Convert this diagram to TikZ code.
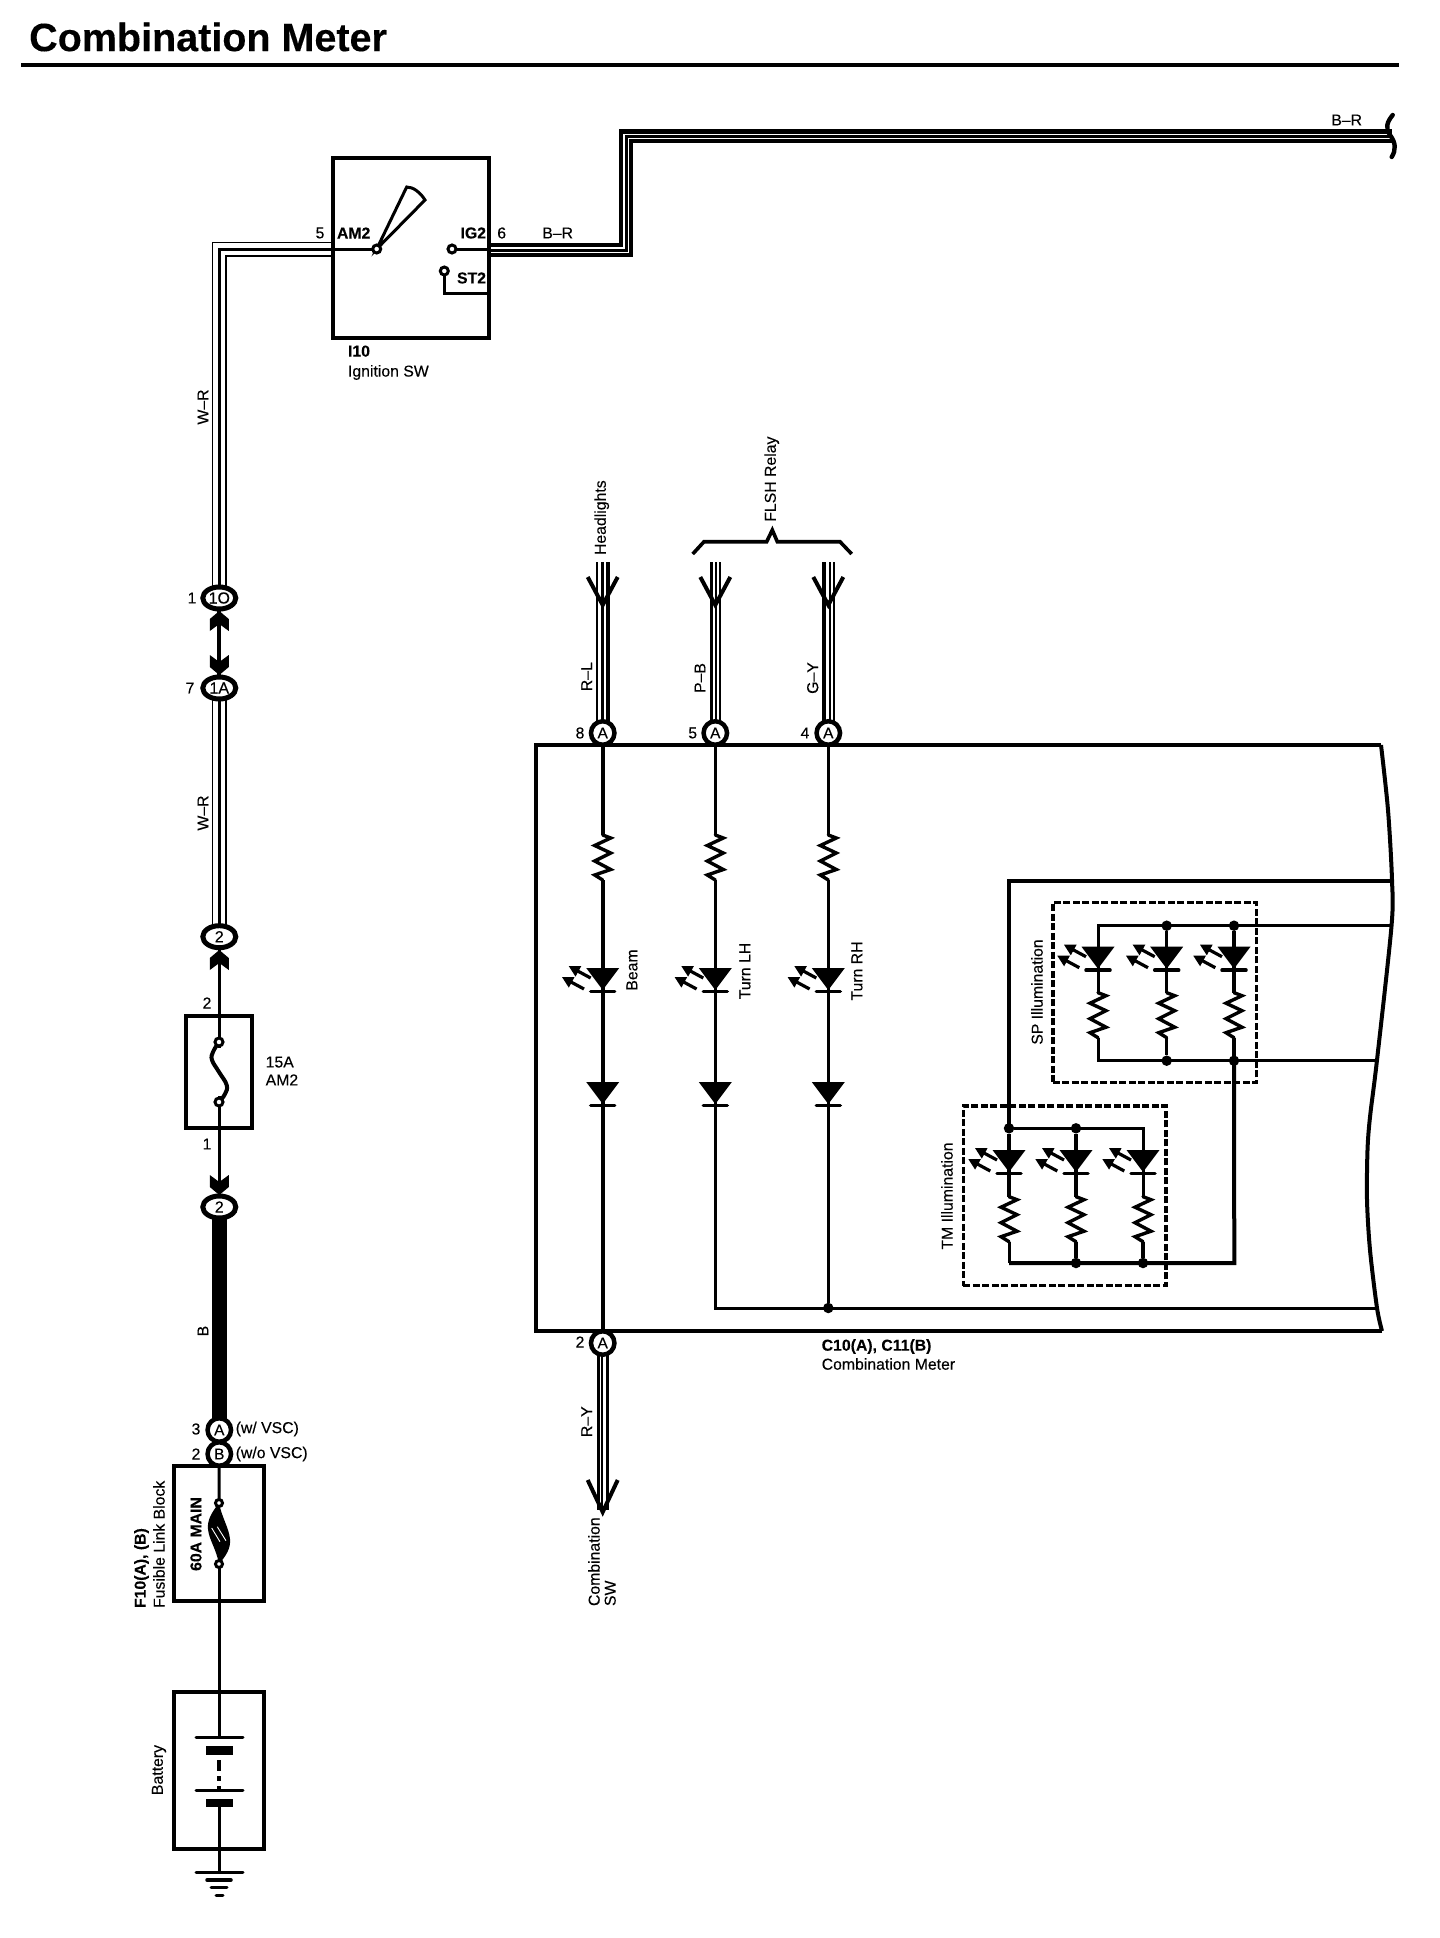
\documentclass[tikz,border=0pt]{standalone}
\usepackage{fontspec}
\setmainfont{Liberation Sans}[FakeBold=0.2]
\usetikzlibrary{shapes.geometric,backgrounds}
\tikzset{
  x=1pt,y=-1pt,
  lbl/.style={inner sep=0pt,outer sep=0pt,font=\fontsize{15.8}{18}\selectfont},
  blbl/.style={lbl,font=\fontsize{15.8}{18}\selectfont\bfseries},
  boxnode/.style={draw,line width=4.5pt,inner sep=0pt,outer sep=0pt},
  oval/.style={ellipse,draw,fill=white,line width=5pt,minimum width=33pt,minimum height=22pt,inner sep=0pt,outer sep=0pt,font=\fontsize{16}{18}\selectfont},
  pin/.style={circle,draw,fill=white,line width=4.5pt,minimum size=23.5pt,inner sep=0pt,outer sep=0pt,font=\fontsize{15.5}{18}\selectfont},
  term/.style={circle,draw,fill=white,line width=3pt,minimum size=8pt,inner sep=0pt,outer sep=0pt},
  jdot/.style={circle,fill=black,minimum size=10.5pt,inner sep=0pt,outer sep=0pt},
  dashbox/.style={draw,line width=3.2pt,dash pattern=on 7pt off 2.5pt,inner sep=0pt,outer sep=0pt},
  triplewire/.style={line width=15pt,draw=black,miter limit=10,
    postaction={draw=white,line width=12pt},
    postaction={draw=black,line width=3pt}},
  fletchup/.pic={\fill (0,0)--(9.5,8)--(9.5,20)--(0,13)--(-9.5,20)--(-9.5,8)--cycle;},
  fletchdown/.pic={\fill (0,0)--(9.5,-8)--(9.5,-20)--(0,-13)--(-9.5,-20)--(-9.5,-8)--cycle;},
  vee/.pic={\draw[line width=4pt,line join=miter] (-15,-28)--(0,0)--(15,-28);},
  veelong/.pic={\draw[line width=4pt,line join=miter] (-15,-32)--(0,0)--(15,-32);},
  diodesym/.pic={
    \fill (-16.5,0)--(16.5,0)--(0,22)--cycle;
    \draw[line width=3.5pt,line cap=round] (-12,23.5)--(12,23.5);},
  ledsym/.pic={
    \fill (-16.5,0)--(16.5,0)--(0,22)--cycle;
    \draw[line width=3.5pt,line cap=round] (-12,23.5)--(12,23.5);
    \foreach \sx/\sy in {0/0,-6.7/11}{
      \begin{scope}[shift={(\sx,\sy)}]
        \draw[line width=3.2pt] (-12,10)--(-25,3);
        \fill (-34,-2)--(-21.4,-2)--(-27.2,8.6)--cycle;
      \end{scope}}},
  ressym/.pic={
    \coordinate (-top) at (0,0);
    \coordinate (-bot) at (0,45);
    \draw[line width=3.4pt,line join=miter,line cap=round]
      (0,0)--(8,3)--(-8,10.5)--(8,18)--(-8,26)--(8,34.5)--(-8,40)--(0,45);},
}
\begin{document}
\begin{tikzpicture}
\useasboundingbox (0,0) rectangle (1440,1938);

% ---------- title
\node[inner sep=0pt,anchor=west,font=\fontsize{39.5}{44}\selectfont\bfseries] (title) at (29,37) {Combination Meter};
\coordinate (ruleL) at (21,65);
\coordinate (ruleR) at (1399,65);
\draw[line width=4pt] (ruleL)--(ruleR);

% ---------- meter outline
\coordinate (mTL) at (536,745);
\coordinate (mTR) at (1381,745);
\coordinate (mBR) at (1382,1331);
\coordinate (mBL) at (536,1331);
\draw[line width=4pt,line join=miter] (mBR)--(mBL)--(mTL)--(mTR);
\draw[line width=4pt] plot[smooth,tension=0.5] coordinates {(1381,745)(1388,810)(1392,880)(1391.5,926)(1377,1060)(1370,1117)(1367.5,1150)(1367,1200)(1370,1250)(1377,1308)(1382,1331)};

% ---------- ignition switch
\node[boxnode,minimum width=156pt,minimum height=180pt] (ign) at (411,248) {};
\node[term] (am2t) at (376.7,249) {};
\node[term] (ig2t) at (452,249) {};
\node[term] (st2t) at (444.3,271) {};
\coordinate (ignL) at (333,249);
\coordinate (ignR) at (489,249);
\coordinate (ignS) at (489,293.5);
\coordinate (wedgeA) at (406.7,187);
\coordinate (wedgeB) at (425,200);
\node[lbl,anchor=center] (l5) at (320,233) {5};
\node[blbl,anchor=west] (lam2) at (337,233) {AM2};
\node[blbl,anchor=east] (lig2) at (486,233) {IG2};
\node[lbl,anchor=center] (l6) at (501.7,233) {6};
\node[lbl,anchor=center] (lbr1) at (557.7,233) {B--R};
\node[blbl,anchor=east] (lst2) at (486,278) {ST2};
\node[lbl,anchor=west,align=left,font=\fontsize{15.8}{20}\selectfont] (lign) at (348,362.7) {{\bfseries I10}\\Ignition SW};

% ---------- left column connectors
\node[oval] (c1O) at (219.3,598) {1O};
\node[oval] (c1A) at (219.3,688) {1A};
\node[oval] (c2a) at (219.3,936.7) {2};
\node[oval] (c2b) at (219.3,1207) {2};
\node[pin] (cA) at (219.3,1430) {A};
\node[pin] (cB) at (219.3,1454) {B};
\node[lbl] (l1) at (192,598) {1};
\node[lbl] (l7) at (190,688) {7};
\node[lbl] (l3) at (196,1429) {3};
\node[lbl] (l2c) at (196,1454) {2};
\node[lbl,anchor=west] (lvsc) at (235.7,1429) {(w/ VSC)};
\node[lbl,anchor=west] (lnvsc) at (235.7,1454) {(w/o VSC)};
\node[lbl,rotate=90] (lwr1) at (203,407) {W--R};
\node[lbl,rotate=90] (lwr2) at (203,813) {W--R};
\node[lbl,rotate=90] (lb) at (203,1331) {B};
\pic at (219.3,611) {fletchup};
\pic at (219.3,675) {fletchdown};
\pic at (219.3,950) {fletchup};
\pic at (219.3,1195) {fletchdown};

% ---------- 15A fuse
\node[boxnode,line width=4pt,minimum width=66pt,minimum height=112pt] (fuse) at (219,1072) {};
\node[lbl] (lf2) at (207,1003) {2};
\node[lbl] (lf1) at (207,1144) {1};
\node[lbl,anchor=west,align=left] (lfuse) at (265.7,1071) {15A\\AM2};

% ---------- fusible link
\node[boxnode,minimum width=90pt,minimum height=135pt] (flb) at (219,1533.5) {};
\fill (219,1503) .. controls (212,1512) and (207,1520) .. (208,1529) .. controls (209,1540) and (216,1548) .. (219,1564)
      .. controls (226,1556) and (231,1548) .. (230,1539) .. controls (229,1528) and (222,1518) .. (219,1503) -- cycle;
\draw[white,line width=0.9pt] (211.7,1528)--(220,1541.7) (217.3,1526.7)--(226,1540.7);
\node[term,minimum size=7pt] (g1) at (219,1503) {};
\node[term,minimum size=7pt] (g2) at (219,1564) {};
\node[blbl,rotate=90] (l60) at (196,1534) {60A MAIN};
\node[lbl,rotate=90,anchor=west,align=left,font=\fontsize{15.8}{19}\selectfont] (lflb) at (149.5,1608) {{\bfseries F10(A), (B)}\\Fusible Link Block};

% ---------- battery
\node[boxnode,minimum width=90pt,minimum height=157pt] (bat) at (219,1770.5) {};
\node[lbl,rotate=90] (lbat) at (159,1770) {Battery};
\coordinate (p1) at (219,1737);
\coordinate (p2) at (219,1750);
\coordinate (p3) at (219,1790);
\coordinate (p4) at (219,1803);
\coordinate (gnd) at (219,1872);
\draw[line width=3pt,line cap=round] (196,1737)--(243,1737);
\draw[line width=9pt] (206,1750)--(232.7,1750);
\draw[line width=3pt,line cap=round] (196,1790)--(243,1790);
\draw[line width=8pt] (206,1803)--(232.7,1803);
\draw[line width=3pt,line cap=round] (196,1872)--(243,1872);
\draw[line width=3.5pt,line cap=round] (207,1880)--(231,1880);
\draw[line width=3pt,line cap=round] (211,1887)--(227,1887);
\draw[line width=3pt,line cap=round] (216,1895)--(223,1895);

% ---------- meter connectors
\node[pin] (a8) at (602.7,733) {A};
\node[pin] (a5) at (715.3,733) {A};
\node[pin] (a4) at (828.3,733) {A};
\node[pin] (a2) at (602.7,1343) {A};
\node[lbl] (l8) at (580,733) {8};
\node[lbl] (l5b) at (692.7,733) {5};
\node[lbl] (l4) at (805,733) {4};
\node[lbl] (l2d) at (580,1342) {2};
\node[lbl,rotate=90] (lrl) at (586.7,676.7) {R--L};
\node[lbl,rotate=90] (lpb) at (700,678) {P--B};
\node[lbl,rotate=90] (lgy) at (812.7,678) {G--Y};
\node[lbl,rotate=90] (lry) at (586.7,1421.7) {R--Y};
\node[lbl,rotate=90,anchor=west] (lhead) at (601.7,555) {Headlights};
\node[lbl,rotate=90,anchor=west] (lflsh) at (771.7,521.7) {FLSH Relay};
\node[lbl,rotate=90,anchor=west,align=left,font=\fontsize{15.8}{16}\selectfont] (lcsw) at (602,1606) {Combination\\SW};
\node[lbl,anchor=west,align=left,font=\fontsize{15.8}{19}\selectfont] (lmeter) at (821.7,1354.5) {{\bfseries C10(A), C11(B)}\\Combination Meter};
\node[lbl,rotate=90] (lbeam) at (632,970) {Beam};
\node[lbl,rotate=90] (llh) at (745,971) {Turn LH};
\node[lbl,rotate=90] (lrh) at (857,971) {Turn RH};
\coordinate (tR) at (602.7,562);
\coordinate (tP) at (715.3,562);
\coordinate (tG) at (828.3,562);
\coordinate (tY) at (602.7,1510);
\draw[line width=3.6pt,line join=miter] (692.7,554)--(704,541.7)--(766.7,541.7)--(772.3,530)--(777.3,541.7)--(840,541.7)--(851.7,554);
\pic at (602.7,605) {vee};
\pic at (715.3,605) {vee};
\pic at (828.3,605) {vee};
\pic at (602.7,1512) {veelong};

% ---------- three indicator chains
\pic (rb) at (602.7,835) {ressym};
\pic (rl) at (715.3,835) {ressym};
\pic (rr) at (828.3,835) {ressym};
\pic at (602.7,968) {ledsym};
\pic at (715.3,968) {ledsym};
\pic at (828.3,968) {ledsym};
\pic at (602.7,1082) {diodesym};
\pic at (715.3,1082) {diodesym};
\pic at (828.3,1082) {diodesym};
\node[jdot] (jrail) at (828.3,1308) {};
\coordinate (railE) at (1377,1308);

% ---------- SP illumination
\node[dashbox,minimum width=203.7pt,minimum height=180pt] (spbox) at (1154.8,992.7) {};
\node[lbl,rotate=90] (lsp) at (1037,992) {SP Illumination};
\node[jdot] (sa2) at (1166.7,925.7) {};
\node[jdot] (sa3) at (1234,925.7) {};
\node[jdot] (sb2) at (1166.7,1060.7) {};
\node[jdot] (sb3) at (1234,1060.7) {};
\coordinate (sa1) at (1098,925.7);
\coordinate (sb1) at (1098,1060.7);
\coordinate (saE) at (1391.5,925.7);
\coordinate (sbE) at (1376.5,1060.7);
\coordinate (outerE) at (1392,880.7);
\coordinate (outerC) at (1009,880.7);
\pic at (1098,946.7) {ledsym};
\pic at (1166.7,946.7) {ledsym};
\pic at (1234,946.7) {ledsym};
\pic (rs1) at (1098,992.7) {ressym};
\pic (rs2) at (1166.7,992.7) {ressym};
\pic (rs3) at (1234,992.7) {ressym};

% ---------- TM illumination
\node[dashbox,minimum width=202.7pt,minimum height=179.7pt] (tmbox) at (1064.7,1195.8) {};
\node[lbl,rotate=90] (ltm) at (947,1196) {TM Illumination};
\node[jdot] (ta1) at (1009,1128.3) {};
\node[jdot] (ta2) at (1076,1128.3) {};
\node[jdot] (tb2) at (1076,1263) {};
\node[jdot] (tb3) at (1143,1263) {};
\coordinate (ta3) at (1143,1128.3);
\coordinate (tb1) at (1009,1263);
\coordinate (tbE) at (1234.3,1263);
\pic at (1009,1150) {ledsym};
\pic at (1076,1150) {ledsym};
\pic at (1143,1150) {ledsym};
\pic (rt1) at (1009,1196.7) {ressym};
\pic (rt2) at (1076,1196.7) {ressym};
\pic (rt3) at (1143,1196.7) {ressym};

% ---------- end of the B-R feed
\coordinate (brA) at (489,249.5);
\coordinate (brB) at (625.5,249.5);
\coordinate (brC) at (625.5,136);
\coordinate (brD) at (1392,136);
\node[lbl] (lbr2) at (1346.7,120) {B--R};
\draw[line width=4.4pt,line cap=round] (1392.7,115) .. controls (1387,122) and (1385,128) .. (1390,135) .. controls (1396,143) and (1396,150) .. (1391.7,157);

% ---------- wires under the nodes
\begin{scope}[on background layer]
  \fill[white] (0,0) rectangle (1440,1938);
  % ignition
  \draw[line width=3pt] (376.7,249)--(wedgeA) .. controls (413,187) and (420,192) .. (wedgeB)--cycle;
  \draw[line width=3pt] (ignL)--(am2t);
  \draw[line width=3pt] (ig2t)--(ignR);
  \draw[line width=3.5pt,line join=miter] (st2t)--(st2t|-ignS)--(ignS);
  % W-R
  \draw[triplewire] (c1O.center)--(c1O.center|-ignL)--(ignL);
  \draw[line width=4pt] (c1O)--(c1A);
  \draw[triplewire] (c1A.center)--(c2a.center);
  \draw[line width=3pt] (c2a)--(c2b);
  \draw[line width=14.5pt] (c2b.center)--(cA.center);
  \draw[line width=3pt] (cB)--(g1);
  \draw[line width=3pt] (g2)--(bat.north);
  \draw[line width=3pt] (bat.north)--(p1);
  \draw[line width=3.2pt,dash pattern=on 5pt off 5pt on 11pt off 5pt on 5pt off 5pt] (p2)--(p3);
  \draw[line width=3pt] (p4)--(gnd);
  % B-R: thick edge on the outer side, two thin lines inside
  \draw[line width=14pt,line join=miter] (brA)--(brB)--(brC)--(brD);
  \foreach \d in {-1.5,2.7}{
    \draw[white,line width=1.4pt,line join=miter] ([shift={(0,\d)}]brA)--([shift={(\d,\d)}]brB)--([shift={(\d,\d)}]brC)--([shift={(0,\d)}]brD);}
  % meter inputs
  \foreach \dx/\w in {-5.5/2,-0.5/2.6,5.3/4}
    \draw[line width=\w pt] ([xshift=\dx pt]a8.center)--([xshift=\dx pt]tR);
  \foreach \dx/\w in {-3.7/3.3,0.5/1.8,4.7/1.5}
    \draw[line width=\w pt] ([xshift=\dx pt]a5.center)--([xshift=\dx pt]tP);
  \foreach \dx/\w in {-4/4.3,1.7/1.5,5.5/2.3}
    \draw[line width=\w pt] ([xshift=\dx pt]a4.center)--([xshift=\dx pt]tG);
  \foreach \dx/\w in {-4.3/2.5,-0.7/2,5/3.3}
    \draw[line width=\w pt] ([xshift=\dx pt]a2.center)--([xshift=\dx pt]tY);
  % meter inner
  \draw[line width=4pt] (a8)--(rb-top) (rb-bot)--(a2);
  \draw[line width=3pt] (a5)--(rl-top);
  \draw[line width=3pt,line join=miter] (rl-bot)--(rl-bot|-jrail)--(railE);
  \draw[line width=3.5pt] (a4)--(rr-top) (rr-bot)--(jrail);
  % SP
  \draw[line width=4pt,line join=miter] (outerE)--(outerC)--(ta1.center);
  \draw[line width=3pt,line join=miter] (saE)--(sa1)--(rs1-top);
  \draw[line width=3.2pt] (sa2)--(rs2-top);
  \draw[line width=3.5pt] (sa3)--(rs3-top);
  \draw[line width=3pt,line join=miter] (rs1-bot)--(sb1)--(sbE);
  \draw[line width=3.2pt] (rs2-bot)--(sb2);
  \draw[line width=3.5pt] (rs3-bot)--(sb3.center);
  \draw[line width=4pt,line join=miter] (sb3.center)--(tbE)--(tb1);
  % TM
  \draw[line width=3pt,line join=miter] (ta1)--(ta3)--(rt3-top);
  \draw[line width=3.2pt] (ta1)--(rt1-top);
  \draw[line width=3.2pt] (ta2)--(rt2-top);
  \draw[line width=3pt,line join=miter] (rt1-bot)--(tb1);
  \draw[line width=3.2pt] (rt2-bot)--(tb2);
  \draw[line width=3.2pt] (rt3-bot)--(tb3);
\end{scope}

% ---------- 15A fuse element (over its feed)
\draw[line width=4pt,white] (219,1048)--(219,1096);
\draw[line width=4pt] plot[smooth,tension=0.7] coordinates {(219,1042)(213,1052)(212,1060)(219,1072)(226.7,1085)(225,1094)(219,1102)};
\node[term] (f1) at (219,1042) {};
\node[term] (f2) at (219,1102) {};
\end{tikzpicture}
\end{document}
